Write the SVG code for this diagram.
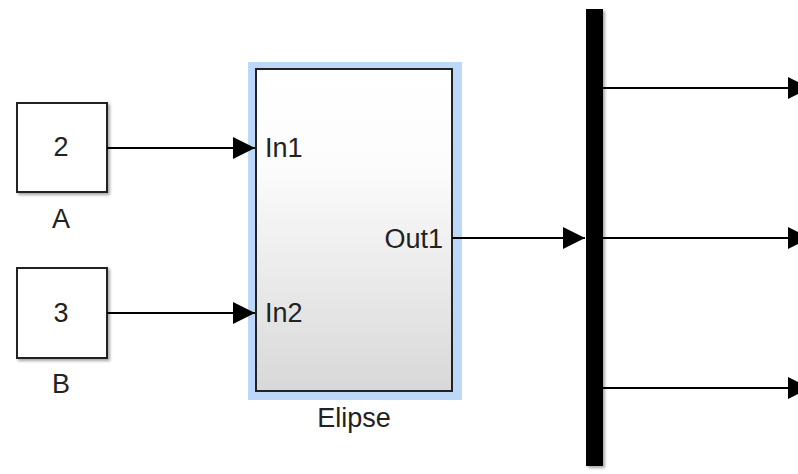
<svg xmlns="http://www.w3.org/2000/svg" width="798" height="474" viewBox="0 0 798 474">
<defs>
<linearGradient id="g" x1="0" y1="0" x2="0" y2="1">
<stop offset="0" stop-color="#ffffff"/>
<stop offset="0.3" stop-color="#fcfcfc"/>
<stop offset="1" stop-color="#d8d8d8"/>
</linearGradient>
<filter id="sh" x="-10%" y="-10%" width="130%" height="130%">
<feGaussianBlur in="SourceAlpha" stdDeviation="1.5"/>
<feOffset dx="2" dy="2" result="b"/>
<feComponentTransfer><feFuncA type="linear" slope="0.35"/></feComponentTransfer>
<feMerge><feMergeNode/><feMergeNode in="SourceGraphic"/></feMerge>
</filter>
<marker id="ar" markerWidth="22" markerHeight="22" refX="22" refY="11" orient="auto" markerUnits="userSpaceOnUse">
<path d="M0,0 L22,11 L0,22 Z" fill="#000"/>
</marker>
</defs>
<style>
text{font-family:"Liberation Sans",Arial,sans-serif;font-size:27px;fill:#222}
.blk{fill:#fff;stroke:#222;stroke-width:2}
.ln{stroke:#000;stroke-width:2;fill:none}
</style>
<rect width="798" height="474" fill="#fff"/>
<g id="A">
<rect class="blk" x="17" y="103" width="90" height="89" filter="url(#sh)"/>
<text x="61" y="156" text-anchor="middle">2</text>
<text x="61" y="228" text-anchor="middle">A</text>
</g>
<g id="B">
<rect class="blk" x="17" y="268" width="90" height="90" filter="url(#sh)"/>
<text x="61" y="322" text-anchor="middle">3</text>
<text x="61" y="393" text-anchor="middle">B</text>
</g>
<g id="Elipse">
<rect x="248" y="62" width="214" height="338" fill="#bcd7f7"/>
<rect x="256" y="69" width="196" height="322" fill="url(#g)" stroke="#222" stroke-width="2"/>
<text x="265" y="157">In1</text>
<text x="265" y="322">In2</text>
<text x="443" y="248" text-anchor="end">Out1</text>
<text x="354" y="427" text-anchor="middle">Elipse</text>
</g>
<g id="Demux">
<rect x="586" y="9" width="17" height="457" fill="#000" filter="url(#sh)"/>
</g>
<g id="connectors">
<line class="ln" x1="107" y1="148" x2="255" y2="148" marker-end="url(#ar)"/>
<line class="ln" x1="107" y1="313" x2="255" y2="313" marker-end="url(#ar)"/>
<line class="ln" x1="452" y1="238" x2="585" y2="238" marker-end="url(#ar)"/>
<line class="ln" x1="603" y1="88" x2="810" y2="88" marker-end="url(#ar)"/>
<line class="ln" x1="603" y1="238" x2="810" y2="238" marker-end="url(#ar)"/>
<line class="ln" x1="603" y1="388" x2="810" y2="388" marker-end="url(#ar)"/>
</g>
</svg>
